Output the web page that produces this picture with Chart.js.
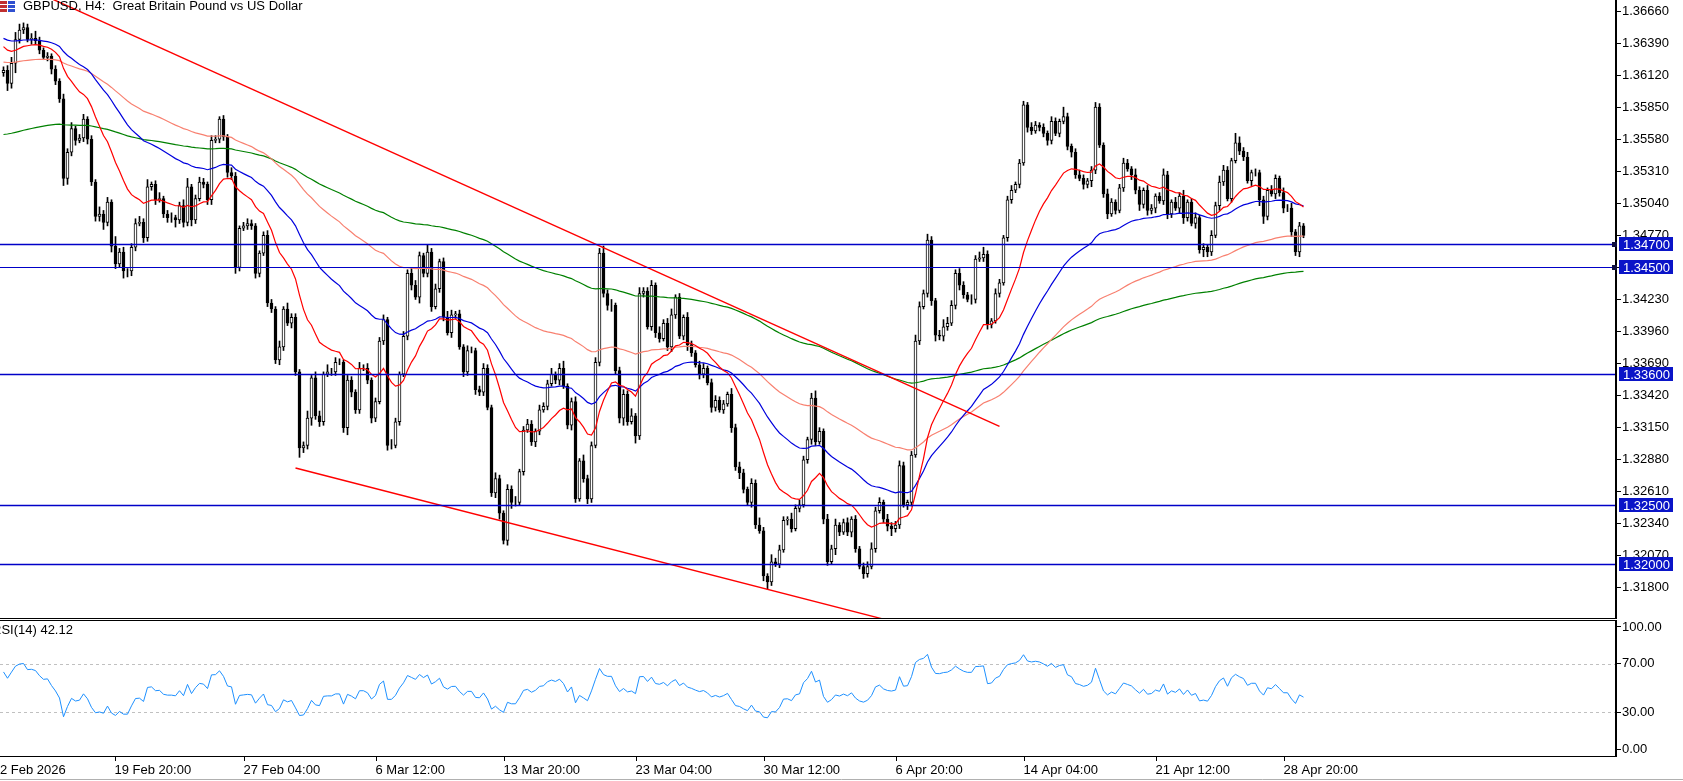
<!DOCTYPE html>
<html>
<head>
<meta charset="utf-8">
<script src="https://cdn.jsdelivr.net/npm/chart.js@4.4.1/dist/chart.umd.min.js"></script>
<style>
  body { margin: 0; background: #fff; overflow: hidden; }
  canvas { position: absolute; left: 0; }
  #main { top: 0; }
  #rsi { top: 619px; }
</style>
</head>
<body>
<canvas id="main" width="1683" height="619"></canvas>
<canvas id="rsi" width="1683" height="162"></canvas>
<script>
// GBPUSD H4, cierres (1.xxxx -> xxxx)
const closes = [
  3616,3605,3622,3642,3650,3652,3642,3643,3641,3633,
  3627,3628,3617,3607,3592,3525,3547,3567,3557,3559,
  3575,3558,3522,3493,3495,3488,3505,3468,3453,3463,
  3447,3447,3467,3487,3488,3475,3518,3520,3507,3508,
  3495,3492,3492,3490,3502,3488,3518,3490,3508,3522,
  3520,3507,3557,3558,3575,3560,3530,3527,3450,3483,
  3485,3487,3485,3445,3462,3477,3420,3415,3372,3383,
  3415,3403,3408,3362,3298,3300,3323,3357,3325,3320,
  3360,3362,3362,3370,3370,3315,3355,3345,3330,3365,
  3365,3355,3323,3337,3388,3406,3300,3300,3320,3360,
  3392,3445,3435,3425,3460,3445,3463,3417,3432,3455,
  3408,3395,3410,3411,3383,3362,3380,3380,3347,3345,
  3365,3332,3260,3272,3243,3220,3263,3252,3252,3278,
  3313,3318,3303,3312,3330,3333,3352,3360,3355,3365,
  3350,3317,3337,3255,3287,3272,3255,3300,3370,3462,
  3428,3418,3418,3363,3323,3343,3320,3325,3308,3428,
  3430,3400,3435,3395,3390,3403,3383,3410,3425,3392,
  3408,3385,3378,3368,3360,3365,3353,3332,3338,3330,
  3335,3343,3315,3282,3277,3263,3252,3268,3233,3228,
  3190,3185,3202,3200,3212,3237,3238,3230,3247,3250,
  3288,3305,3340,3303,3312,3238,3202,3213,3233,3227,
  3235,3227,3238,3213,3198,3192,3198,3213,3245,3252,
  3238,3232,3230,3233,3283,3250,3252,3292,3388,3417,
  3428,3473,3422,3393,3392,3400,3403,3418,3445,3435,
  3427,3423,3423,3457,3458,3461,3402,3405,3428,3437,
  3475,3507,3515,3520,3538,3587,3568,3565,3570,3568,
  3563,3557,3573,3563,3573,3577,3552,3547,3528,3525,
  3520,3523,3532,3585,3553,3512,3495,3505,3498,3517,
  3538,3533,3528,3515,3503,3515,3498,3500,3510,3506,
  3528,3495,3505,3500,3510,3492,3505,3487,3492,3465,
  3467,3463,3477,3502,3522,3532,3508,3540,3555,3548,
  3543,3523,3530,3530,3507,3493,3515,3512,3525,3513,
  3500,3500,3480,3463,3485,3477
];
const firstOpen = 3614;
// mechas superior / inferior en pips
const upWick = [
  3,4,5,6,5,4,3,4,6,3, 2,3,2,3,2,4,3,5,2,3, 4,2,3,2,6,3,4,2,8,3, 4,2,3,4,5,3,6,2,3,5,
  2,3,4,2,3,5,7,2,3,4, 3,2,4,3,2,3,2,4,3,2, 3,4,3,2,2,3,4,3,2,5, 2,5,3,3,2,3,6,2,5,4,
  2,6,3,4,3,2,4,3,2,5, 3,4,2,3,3,4,2,5,3,2, 4,3,5,4,3,2,6,3,4,2, 3,5,4,2,3,2,4,3,2,3,
  4,3,2,5,3,2,4,3,5,2, 3,4,3,2,4,3,3,5,2,4, 6,2,3,4,2,5,3,3,4,4, 6,3,5,2,3,4,3,6,2,5,
  3,3,4,2,5,3,4,5,2,3, 2,4,3,2,3,4,2,3,4,3, 3,2,5,3,4,3,2,4,3,6, 3,2,6,3,4,3,2,5,3,4,
  3,2,4,6,3,2,4,3,5,2, 3,4,2,3,2,3,4,5,3,4, 2,4,3,3,4,3,2,3,5,4, 3,5,3,2,4,6,5,4,3,4,
  3,2,4,3,5,6,3,2,4,3, 2,3,4,2,3,3,2,4,3,2, 3,2,4,3,2,8,3,2,3,4, 3,2,3,4,3,2,4,3,2,3,
  4,3,2,5,3,2,4,3,2,3, 5,3,2,4,3,5,2,3,4,2, 3,2,4,3,5,4,3,2,8,5, 3,4,2,3,2,3,2,4,3,2,
  4,3,4,2,3,2
];
const downWick = [
  3,6,4,8,3,3,2,4,3,3, 2,3,4,3,3,6,5,3,4,2, 3,4,3,4,4,6,3,5,4,3, 6,5,4,3,2,4,3,3,4,2,
  3,4,4,6,3,4,3,5,3,2, 3,4,4,2,3,3,4,3,5,3, 2,3,3,4,3,2,3,3,3,4, 3,2,4,3,8,4,3,6,3,4,
  3,2,3,3,2,4,6,4,3,3, 2,3,4,3,2,3,4,3,2,3, 2,3,4,2,5,3,3,4,2,3, 3,2,4,3,2,4,3,2,4,3,
  3,2,3,4,5,3,4,5,3,2, 3,2,3,4,3,2,3,2,3,4, 2,3,4,3,2,3,4,3,2,3, 3,4,5,3,4,6,3,2,6,3,
  3,2,3,4,3,2,3,4,3,2, 3,5,3,2,4,3,2,4,3,2, 3,2,4,3,5,3,2,4,3,2, 4,6,3,2,3,2,4,3,2,3,
  2,3,4,3,2,4,3,2,5,3, 2,3,4,3,2,4,3,2,3,2, 3,4,6,3,3,2,4,3,2,3, 2,3,4,5,3,4,3,2,3,4,
  3,2,4,3,2,3,4,3,2,3, 2,3,3,2,3,2,4,3,2,3, 3,4,3,2,3,2,3,4,3,2, 4,3,5,3,2,3,4,2,3,2,
  3,2,4,3,5,3,4,3,4,2, 3,4,3,2,4,5,3,2,4,3, 6,4,3,2,4,3,2,3,2,3, 3,2,4,3,5,6,3,2,4,3,
  4,3,4,3,4,2
];
const maPeriods = [20, 50, 100, 200];
const maSeeds = [3636, 3643, 3623, 3562];
const maColors = ['#ff0000', '#0000dd', '#f88070', '#008000'];
const rsiSeedGain = 6, rsiSeedLoss = 3.5;

const levels = [1.3470, 1.3450, 1.3360, 1.3250, 1.3200];
const levelWidths = [1.6, 1, 1.6, 1.6, 1.6];
const trendUpper = [[7, 1.3684], [249, 1.3316]];
const trendLower = [[73, 1.3281], [220, 1.31537]];

const tickBars = [28, 60, 93, 125, 158, 190, 223, 255, 288, 320];
const tickLabels = ['19 Feb 20:00', '27 Feb 04:00', '6 Mar 12:00', '13 Mar 20:00', '23 Mar 04:00',
  '30 Mar 12:00', '6 Apr 20:00', '14 Apr 04:00', '21 Apr 12:00', '28 Apr 20:00'];
const priceTop = 1.3666, priceStep = 0.0027, priceTicks = 19;

const px = v => 1 + v / 10000;
const opens = closes.map((c, i) => i === 0 ? firstOpen : closes[i - 1]);
const bodies = closes.map((c, i) => ({ x: i, y: [px(opens[i]), px(c)] }));
const wicks = closes.map((c, i) => ({
  x: i,
  y: [px(Math.min(opens[i], c) - downWick[i]), px(Math.max(opens[i], c) + upWick[i])]
}));

function ema(period, seed) {
  const k = 2 / (period + 1);
  let v = seed;
  return closes.map((c, i) => { if (i > 0) v = v + k * (c - v); return { x: i, y: px(v) }; });
}

function rsi() {
  let g = rsiSeedGain, l = rsiSeedLoss;
  return closes.map((c, i) => {
    if (i > 0) {
      const d = c - closes[i - 1];
      g = (g * 13 + Math.max(d, 0)) / 14;
      l = (l * 13 + Math.max(-d, 0)) / 14;
    }
    return { x: i, y: 100 - 100 / (1 + g / l) };
  });
}

const FONT = '13px "Liberation Sans", Arial, sans-serif';
const xMin = -0.875, xMax = 403.125;

const overlay = {
  id: 'overlay',
  afterDatasetsDraw(chart) {
    const { ctx, chartArea: a, scales: { x, y } } = chart;
    ctx.save();
    ctx.beginPath(); ctx.rect(a.left, a.top, a.right - a.left, a.bottom - a.top); ctx.clip();
    ctx.strokeStyle = '#ff0000'; ctx.lineWidth = 1.4;
    [trendUpper, trendLower].forEach(t => {
      ctx.beginPath();
      ctx.moveTo(x.getPixelForValue(t[0][0]), y.getPixelForValue(t[0][1]));
      ctx.lineTo(x.getPixelForValue(t[1][0]), y.getPixelForValue(t[1][1]));
      ctx.stroke();
    });
    ctx.strokeStyle = '#0000c8';
    levels.forEach((lv, i) => {
      const yy = Math.round(y.getPixelForValue(lv)) + 0.5;
      ctx.lineWidth = levelWidths[i];
      ctx.beginPath(); ctx.moveTo(a.left, yy); ctx.lineTo(a.right, yy); ctx.stroke();
    });
    ctx.restore();
    ctx.save();
    ctx.strokeStyle = '#000'; ctx.lineWidth = 1;
    ctx.strokeRect(a.left - 0.5, a.top - 0.5, a.right - a.left, a.bottom - a.top);
    // etiquetas de nivel en el eje
    ctx.font = FONT; ctx.textBaseline = 'middle';
    levels.forEach((lv, i) => {
      const yy = Math.round(y.getPixelForValue(lv));
      ctx.fillStyle = '#0a14c8';
      ctx.fillRect(a.right + 3, yy - 7, 54, 14);
      ctx.fillStyle = '#fff';
      ctx.fillText(lv.toFixed(5), a.right + 7, yy + 1);
      if (i < 2) { ctx.fillStyle = '#101040'; ctx.fillRect(a.right - 4, yy - 2, 5, 5); }
    });
    // titulo
    ctx.fillStyle = '#c03030'; ctx.fillRect(0, 1, 7, 3); ctx.fillRect(0, 5, 7, 3); ctx.fillRect(0, 9, 7, 3);
    ctx.fillStyle = '#3050d0'; ctx.fillRect(8, 1, 7, 3); ctx.fillRect(8, 5, 7, 3); ctx.fillRect(8, 9, 7, 3);
    ctx.fillStyle = '#000'; ctx.textBaseline = 'top';
    ctx.fillText('GBPUSD, H4:  Great Britain Pound vs US Dollar', 23, 0);
    ctx.restore();
  }
};

// ancho fijo del eje y sin relleno extra arriba/abajo
const yAxisFit = s => { s.width = 1683 - 1616; s.paddingTop = 0; s.paddingBottom = 0; };

new Chart(document.getElementById('main'), {
  type: 'bar',
  data: {
    datasets: [
      ...maPeriods.map((p, i) => ({
        type: 'line', data: ema(p, maSeeds[i]), borderColor: maColors[i], borderWidth: 1.2,
        pointRadius: 0, tension: 0, order: 0
      })),
      { data: bodies, barThickness: 3, borderWidth: 1, borderColor: '#000', borderSkipped: false,
        backgroundColor: c => (c.raw && c.raw.y[1] >= c.raw.y[0]) ? '#fff' : '#000', grouped: false, order: 2 },
      { data: wicks, barThickness: 1, backgroundColor: '#000', borderWidth: 0, grouped: false, order: 3 }
    ]
  },
  options: {
    responsive: false, animation: false, devicePixelRatio: 1,
    layout: { padding: 0 },
    plugins: { legend: { display: false }, tooltip: { enabled: false } },
    scales: {
      x: { type: 'linear', min: xMin, max: xMax, display: false, offset: false },
      y: {
        position: 'right', min: 1.31538, max: 1.36753,
        afterFit: yAxisFit,
        afterBuildTicks: s => { s.ticks = Array.from({ length: priceTicks }, (_, k) => ({ value: priceTop - k * priceStep })); },
        grid: { drawOnChartArea: false, color: '#000', tickLength: 5 },
        border: { color: '#000' },
        ticks: { color: '#000', font: { family: '"Liberation Sans", Arial', size: 13 }, padding: 1,
          callback: v => v.toFixed(5) }
      }
    }
  },
  plugins: [overlay]
});

const rsiOverlay = {
  id: 'rsiOverlay',
  beforeDatasetsDraw(chart) {
    const { ctx, chartArea: a, scales: { y } } = chart;
    ctx.save();
    ctx.strokeStyle = '#c0c0c0'; ctx.setLineDash([3, 3]); ctx.lineWidth = 1;
    [70, 30].forEach(v => {
      const yy = Math.round(y.getPixelForValue(v)) + 0.5;
      ctx.beginPath(); ctx.moveTo(a.left, yy); ctx.lineTo(a.right, yy); ctx.stroke();
    });
    ctx.restore();
  },
  afterDatasetsDraw(chart) {
    const { ctx, chartArea: a, scales: { x } } = chart;
    ctx.save();
    ctx.strokeStyle = '#000'; ctx.lineWidth = 1;
    ctx.strokeRect(a.left - 0.5, a.top + 0.5, a.right - a.left, a.bottom - a.top);
    ctx.font = FONT; ctx.fillStyle = '#000'; ctx.textBaseline = 'top';
    ctx.fillText('RSI(14) 42.12', -8, a.top + 4);
    ctx.fillText('2 Feb 2026', 0, a.bottom + 8);
    tickBars.forEach((b, i) => {
      const xx = Math.round(x.getPixelForValue(b)) + 0.5;
      ctx.beginPath(); ctx.moveTo(xx, a.bottom); ctx.lineTo(xx, a.bottom + 5); ctx.stroke();
      ctx.fillText(tickLabels[i], xx - 1, a.bottom + 8);
    });
    ctx.strokeStyle = '#b0b0b0';
    ctx.beginPath(); ctx.moveTo(0, 160.5); ctx.lineTo(1683, 160.5); ctx.stroke();
    ctx.restore();
  }
};

new Chart(document.getElementById('rsi'), {
  type: 'line',
  data: { datasets: [{ data: rsi(), borderColor: '#1e90ff', borderWidth: 1, pointRadius: 0, tension: 0 }] },
  options: {
    responsive: false, animation: false, devicePixelRatio: 1,
    layout: { padding: { top: 1, bottom: 25 } },
    plugins: { legend: { display: false }, tooltip: { enabled: false } },
    scales: {
      x: { type: 'linear', min: xMin, max: xMax, display: false },
      y: {
        position: 'right', min: -5.7, max: 105.7,
        afterFit: yAxisFit,
        afterBuildTicks: s => { s.ticks = [100, 70, 30, 0].map(v => ({ value: v })); },
        grid: { drawOnChartArea: false, color: '#000', tickLength: 5 },
        border: { color: '#000' },
        ticks: { color: '#000', font: { family: '"Liberation Sans", Arial', size: 13 }, padding: 1,
          callback: v => v.toFixed(2) }
      }
    }
  },
  plugins: [rsiOverlay]
});
</script>
</body>
</html>
